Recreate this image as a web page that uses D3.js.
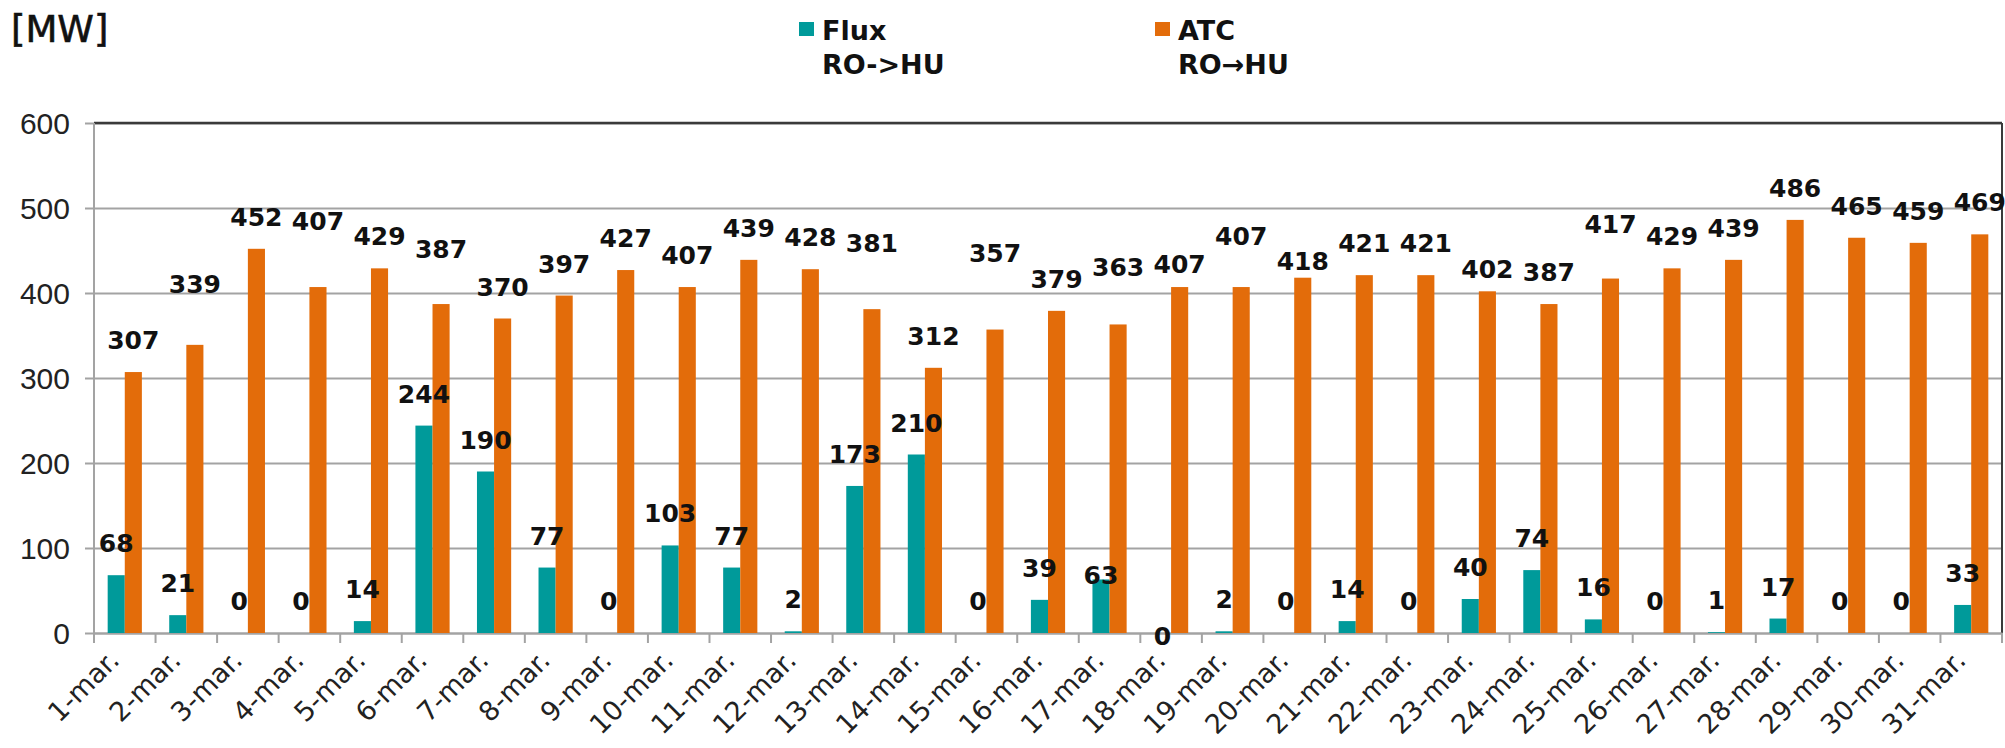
<!DOCTYPE html>
<html lang="en">
<head>
<meta charset="utf-8">
<title>Flux / ATC RO-HU, March</title>
<script src="https://d3js.org/d3.v7.min.js"></script>
<style>
  body { margin: 0; background: #fff; }
  svg { display: block; font-family: "DejaVu Sans", Verdana, sans-serif; }
</style>
</head>
<body>
<div id="chart"></div>
<script>
// data
var days = ["1-mar.", "2-mar.", "3-mar.", "4-mar.", "5-mar.", "6-mar.", "7-mar.", "8-mar.",
            "9-mar.", "10-mar.", "11-mar.", "12-mar.", "13-mar.", "14-mar.", "15-mar.", "16-mar.",
            "17-mar.", "18-mar.", "19-mar.", "20-mar.", "21-mar.", "22-mar.", "23-mar.", "24-mar.",
            "25-mar.", "26-mar.", "27-mar.", "28-mar.", "29-mar.", "30-mar.", "31-mar."];
var flux = [68, 21, 0, 0, 14, 244, 190, 77, 0, 103, 77, 2, 173, 210, 0, 39,
            63, 0, 2, 0, 14, 0, 40, 74, 16, 0, 1, 17, 0, 0, 33];
var atc = [307, 339, 452, 407, 429, 387, 370, 397, 427, 407, 439, 428, 381, 312, 357, 379,
           363, 407, 407, 418, 421, 421, 402, 387, 417, 429, 439, 486, 465, 459, 469];
var yTicks = [0, 100, 200, 300, 400, 500, 600];

// the labels were moved by hand in the original, extra lift in px
var atcLift = [0, 29, 0, 34, 0, 23, 0, 0, 0, 0, 0, 0, 34, 0, 45, 0,
               25, -9, 19, -15, 0, 0, -10, 0, 23, 0, 0, 0, 0, 0, 0];
var fluxLift = [0, 0, 0, 0, 0, 0, 0, 0, 0, 0, 0, 0, 0, 0, 0, 0,
                -28, -35, 0, 0, 0, 0, 0, 0, 0, 0, 0, 0, 0, 0, 0];

var series = [
  { key: "flux", name: "Flux", sub: "RO->HU", color: "#009a9a", values: flux, lift: fluxLift },
  { key: "atc", name: "ATC", sub: "RO\u2192HU", color: "#e36c0a", values: atc, lift: atcLift }
];

var W = 2005, H = 748;
var plotL = 94, plotR = 2002, plotT = 123, plotB = 633;

var svg = d3.select("#chart").append("svg")
    .attr("width", W)
    .attr("height", H);

var x0 = d3.scaleBand().domain(days).range([plotL, plotR]).padding(0);
var x1 = d3.scaleBand().domain(series.map(s => s.key))
    .range([0, x0.bandwidth()]).paddingOuter(0.8).paddingInner(0);
var y = d3.scaleLinear().domain([0, 600]).range([plotB, plotT]);

// unit
svg.append("text")
    .attr("x", 11).attr("y", 42)
    .style("font-size", "37px")
    .attr("fill", "#111")
    .attr("stroke", "#111").attr("stroke-width", 0.6)
    .text("[MW]");

// gridlines + y axis
var yAxis = d3.axisLeft(y).tickValues(yTicks).tickSize(plotR - plotL + 9).tickPadding(0).tickFormat(d3.format("d"));
var gy = svg.append("g")
    .attr("transform", "translate(" + plotR + ",0)")
    .call(yAxis);
gy.select(".domain").remove();
gy.selectAll(".tick line").attr("stroke", "#a3a3a3").attr("stroke-width", 2);
gy.selectAll(".tick text")
    .attr("x", -(plotR - plotL) - 24)
    .attr("dy", "0.36em")
    .attr("fill", "#222")
    .style("font-size", "30px");

// plot frame: dark top and right edges, grey left axis
svg.append("line").attr("x1", plotL).attr("x2", plotR).attr("y1", plotT).attr("y2", plotT)
    .attr("stroke", "#3a3a3a").attr("stroke-width", 2.5);
svg.append("line").attr("x1", plotR).attr("x2", plotR).attr("y1", plotT).attr("y2", plotB)
    .attr("stroke", "#3a3a3a").attr("stroke-width", 2);
svg.append("line").attr("x1", plotL).attr("x2", plotL).attr("y1", plotT).attr("y2", plotB + 1)
    .attr("stroke", "#a3a3a3").attr("stroke-width", 2);

// x axis with ticks between categories
var gx = svg.append("g")
    .attr("transform", "translate(0," + plotB + ")")
    .call(d3.axisBottom(x0).tickSize(0).tickFormat(""));
gx.select(".domain").attr("stroke", "#a3a3a3").attr("stroke-width", 2);
gx.selectAll(".sep")
    .data(days.concat(["end"]))
    .enter().append("line")
    .attr("class", "sep")
    .attr("x1", (d, i) => plotL + i * x0.step())
    .attr("x2", (d, i) => plotL + i * x0.step())
    .attr("y1", 0).attr("y2", 10)
    .attr("stroke", "#a3a3a3").attr("stroke-width", 2);

svg.append("g").selectAll("text")
    .data(days)
    .enter().append("text")
    .attr("transform", d => "translate(" + (x0(d) + x0.bandwidth() / 2 - 4) + "," + (plotB + 29) + ") rotate(-45)")
    .attr("text-anchor", "end")
    .attr("fill", "#222")
    .style("font-size", "27px")
    .text(d => d);

// bars first, then every label on top of them
var groups = svg.append("g").selectAll("g")
    .data(series)
    .enter().append("g");

groups.selectAll("rect")
    .data(s => s.values.map((v, i) => ({ key: s.key, day: days[i], v: v, color: s.color })))
    .enter().append("rect")
    .attr("x", d => x0(d.day) + x1(d.key))
    .attr("y", d => y(d.v))
    .attr("width", x1.bandwidth())
    .attr("height", d => y(0) - y(d.v))
    .attr("fill", d => d.color);

var labelData = [];
series.forEach(s => s.values.forEach((v, i) =>
    labelData.push({ key: s.key, day: days[i], v: v, lift: s.lift[i] })));

svg.append("g").selectAll("text")
    .data(labelData)
    .enter().append("text")
    .attr("x", d => x0(d.day) + x1(d.key) + x1.bandwidth() / 2)
    .attr("y", d => y(d.v) - 23 - d.lift)
    .attr("text-anchor", "middle")
    .attr("fill", "#111")
    .style("font-size", "25px")
    .style("font-weight", "bold")
    .text(d => d.v);

// legend
var legend = svg.append("g").selectAll("g")
    .data(series)
    .enter().append("g")
    .attr("transform", (d, i) => "translate(" + (799 + i * 356) + ",0)");
legend.append("rect")
    .attr("x", 0).attr("y", 22)
    .attr("width", 15).attr("height", 14)
    .attr("fill", d => d.color);
legend.append("text")
    .attr("x", 23).attr("y", 40)
    .style("font-size", "27px").style("font-weight", "bold")
    .attr("fill", "#111")
    .text(d => d.name);
legend.append("text")
    .attr("x", 23).attr("y", 74)
    .style("font-size", "27px").style("font-weight", "bold")
    .attr("fill", "#111")
    .text(d => d.sub);
</script>
</body>
</html>
